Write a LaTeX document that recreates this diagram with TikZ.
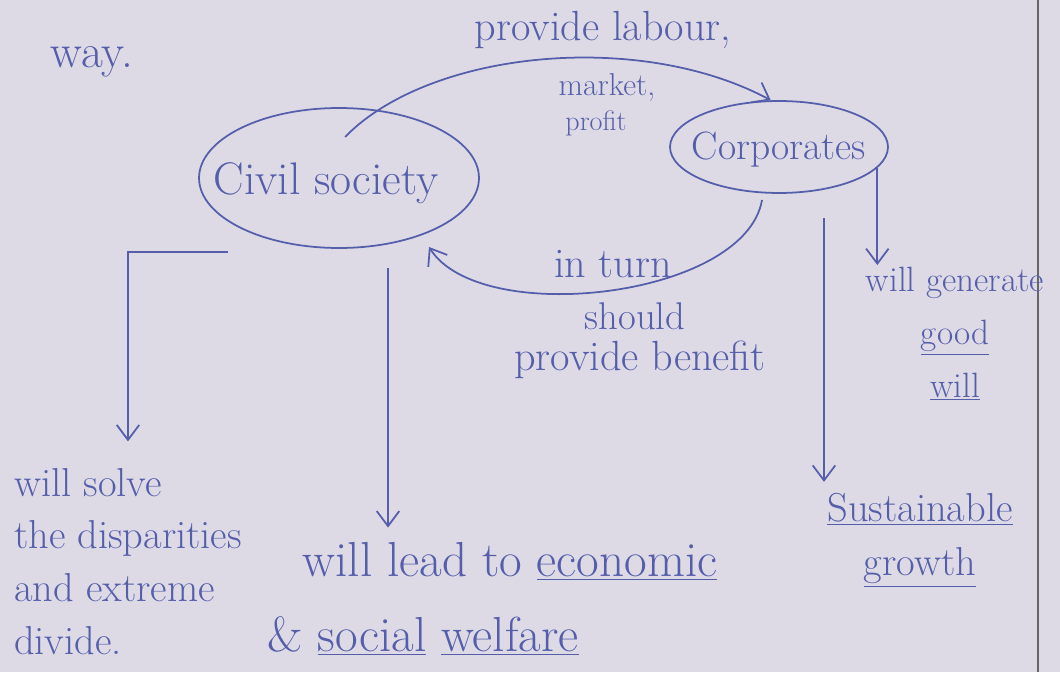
\documentclass[tikz,border=0pt]{standalone}
\usepackage{xcolor}
\usepackage{tikz}
\usetikzlibrary{arrows.meta, shapes.geometric}
\definecolor{paper}{RGB}{221,218,230}
\definecolor{ink}{RGB}{84,94,170}

\begin{document}
\begin{tikzpicture}[%
    x=0.02cm, y=-0.02cm,
    hand/.style={text=ink, inner sep=1pt, font=\fontsize{23}{31}\selectfont},
    bubble/.style={ellipse, draw=ink, line width=1pt, inner sep=0pt},
     Arr/.style={draw=ink, line width=1pt, -{Straight Barb[length=3mm, width=4.5mm]}},
                        ]
    \path[use as bounding box, fill=paper] (0,0) rectangle (1060,672);
    \draw[black!60, line width=0.8pt] (1038,0) -- (1038,672); % margin

    \node[hand, font=\fontsize{27}{30}\selectfont] (way_node) at (92,62) {way.};

    \node[bubble, minimum width=5.6cm, minimum height=2.8cm] (civil_node) at (339,178) {};
    \node[hand, font=\fontsize{26}{30}\selectfont] (civil_text) at (326,183) {Civil society};
    \node[bubble, minimum width=4.36cm, minimum height=1.84cm] (corp_node) at (779,147) {};
    \node[hand, font=\fontsize{22.5}{30}\selectfont] (corp_text) at (779,150) {Corporates};

    \node[hand, font=\fontsize{24}{30}\selectfont] (labour_label) at (603,30) {provide labour,};
    \node[hand, font=\fontsize{18}{30}\selectfont] (market_label) at (607,88) {market,};
    \node[hand, font=\fontsize{16}{30}\selectfont] (profit_label) at (596,123) {profit};

    \node[hand, font=\fontsize{24}{30}\selectfont] (turn_label) at (613,264) {in turn};
    \node[hand, font=\fontsize{22}{30}\selectfont] (should_label) at (635,316) {should};
    \node[hand, font=\fontsize{24}{30}\selectfont] (benefit_label) at (640,360) {provide benefit};

    \node[hand, align=center, font=\fontsize{20}{30}\selectfont] (gen_node) at (955,334)
        {will generate\\ \underline{good}\\ \underline{will}};
    \node[hand, align=center] (sust_node) at (920,540)
        {\underline{Sustainable}\\ \underline{growth}};
    \node[hand, align=left, anchor=north west, font=\fontsize{23}{30}\selectfont] (solve_node) at (12,466)
        {will solve\\the disparities\\and extreme\\divide.};
    \node[hand, font=\fontsize{28}{30}\selectfont] (lead_node) at (510,561) {will lead to \underline{economic}};
    \node[hand, font=\fontsize{28}{30}\selectfont] (welfare_node) at (423,636) {\& \underline{social} \underline{welfare}};

    % free ends of the connectors
    \coordinate (labour_start) at (345,137);
    \coordinate (benefit_start) at (762,200);
    \coordinate (benefit_end) at (429,247);
    \coordinate (solve_start) at (228,252);
    \coordinate (lead_start) at (388,268);
    \coordinate (sust_start) at (824,218);

    \draw[Arr] (labour_start) .. controls (430,50) and (640,30) .. (corp_node.100);
    \draw[Arr] (benefit_start) .. controls (745,298) and (480,328) .. (benefit_end);
    \draw[Arr, shorten >=14pt] (solve_start) -| (solve_node.north);
    \draw[Arr, shorten >=7pt] (lead_start) -- (lead_start |- lead_node.north);
    \draw[Arr] (corp_node.-12) -- (corp_node.-12 |- gen_node.north);
    \draw[Arr, shorten >=5pt] (sust_start) -- (sust_start |- sust_node.north);

\end{tikzpicture}
\end{document}
